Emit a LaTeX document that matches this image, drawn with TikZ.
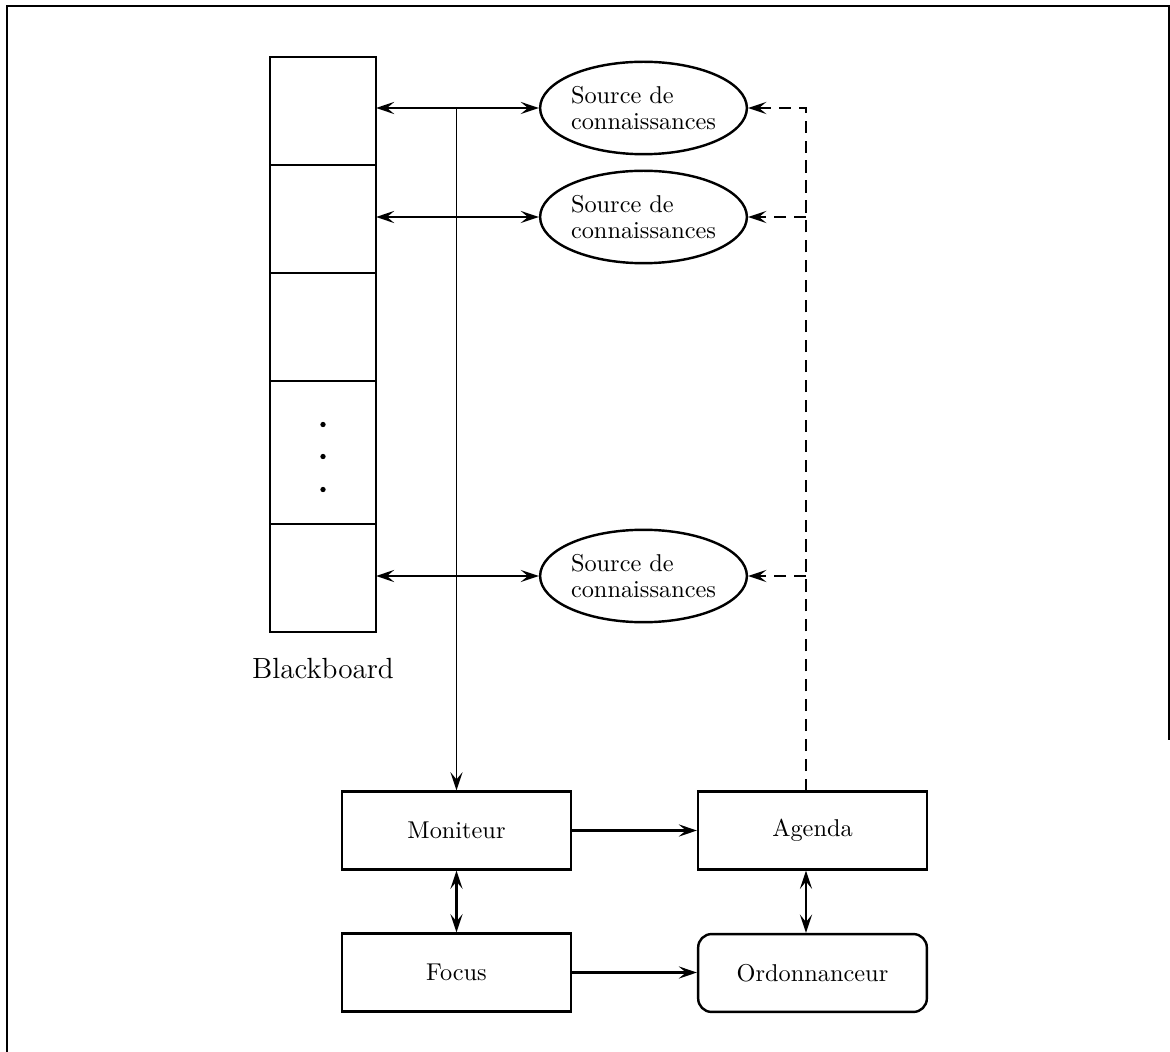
\documentclass[tikz,border=0pt]{standalone}
\usepackage{tikz}
\usetikzlibrary{positioning,shapes.geometric,arrows.meta}

\tikzset{
  cell/.style={draw, line width=1pt, minimum width=43.6pt, minimum height=44.4pt, inner sep=0pt, outer sep=0pt},
  source/.style={draw, ellipse, line width=1pt, minimum width=85pt, minimum height=38pt, inner sep=0pt, align=left},
  module/.style={draw, line width=1pt, minimum width=94pt, minimum height=32pt},
  wire/.style={line width=0.9pt},
  dwire/.style={line width=0.9pt, dash pattern=on 5pt off 3.2pt},
}

\begin{document}
\begin{tikzpicture}[x=0.4111pt, y=-0.4111pt, >={Stealth[length=7.5pt,width=5pt,inset=3pt]}]
\useasboundingbox (0,0) rectangle (1170,1052);

% frame of the page
\draw[line width=0.6pt] (7,1052) -- (7,6) -- (1169,6) -- (1169,740);

% blackboard
\node[cell] (cell1) at (323,111) {};
\node[cell] (cell2) [below=0pt of cell1] {};
\node[cell] (cell3) [below=0pt of cell2] {};
\node[cell, minimum height=58.8pt] (cell4) [below=0pt of cell3] {};
\node[cell] (cell5) [below=0pt of cell4] {};
\node[font=\large] (bb) [below=2.6mm of cell5] {Blackboard};
\fill (cell4.center) ++(0,-28) circle (1.1pt) ++(0,32) circle (1.1pt) ++(0,33) circle (1.1pt);

% knowledge sources
\node[source] (src1) at (643.5,108) {Source de\\[-1.3pt]connaissances};
\node[source] (src2) at (643.5,217) {Source de\\[-1.3pt]connaissances};
\node[source] (src3) at (643.5,576) {Source de\\[-1.3pt]connaissances};

% control modules
\node[module] (mon) at (456.5,830.5) {Moniteur};
\node[module] (agd) at (812.5,830.5) {Agenda};
\node[module] (foc) at (456.5,972.5) {Focus};
\node[module, rounded corners=5.5pt] (ord) at (812.5,973) {Ordonnanceur};

\coordinate (dbus) at (806,791);

\draw[<->, wire] (src1.west -| cell1.east) -- (src1.west);
\draw[<->, wire] (src2.west -| cell2.east) -- (src2.west);
\draw[<->, wire] (src3.west -| cell5.east) -- (src3.west);
\draw[->, line width=0.6pt] (mon.north |- src1.west) -- (mon.north);

\draw[->, dwire] (dbus) |- (src1.east);
\draw[->, dwire] (dbus |- src2.east) -- (src2.east);
\draw[->, dwire] (dbus |- src3.east) -- (src3.east);

\draw[->, wire] (mon.east) -- (agd.west);
\draw[->, wire] (foc.east) -- (foc.east -| ord.west);
\draw[<->, wire] (mon.south) -- (foc.north);
\draw[<->, wire] (dbus |- agd.south) -- (dbus |- ord.north);

\end{tikzpicture}
\end{document}
